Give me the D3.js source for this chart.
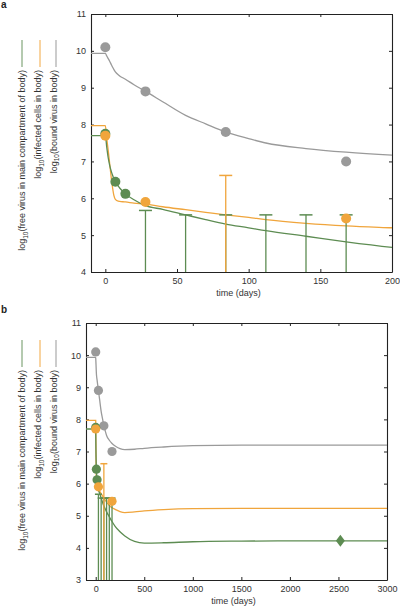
<!DOCTYPE html>
<html><head><meta charset="utf-8">
<script src="https://cdn.jsdelivr.net/npm/d3@7"></script>
<style>
html,body{margin:0;padding:0;background:#fff;}
svg{display:block;font-family:"Liberation Sans",Arial,sans-serif;}
</style></head>
<body>
<svg id="chart" width="400" height="609"></svg>
<script>
// ---- model curves (days, log10 values) ----
const days          = [-100, 0, 1, 2, 3, 4, 5, 6, 7, 9, 10, 14, 20, 28, 40, 56, 70, 84, 100, 112, 140, 168, 200, 250, 300, 400, 500, 700, 1000, 1500, 2000, 3000];
const freeVirus     = [7.7, 7.7, 7.38, 7.1, 6.9, 6.75, 6.63, 6.53, 6.45, 6.33, 6.28, 6.12, 5.96, 5.8, 5.7, 5.55, 5.42, 5.3, 5.2, 5.12, 4.97, 4.82, 4.67, 4.5, 4.37, 4.2, 4.15, 4.16, 4.19, 4.21, 4.22, 4.22];
const infectedCells = [7.97, 7.97, 7.62, 7.3, 6.95, 6.6, 6.3, 6.07, 5.97, 5.92, 5.915, 5.9, 5.87, 5.84, 5.77, 5.69, 5.62, 5.55, 5.48, 5.42, 5.32, 5.25, 5.2, 5.13, 5.1, 5.12, 5.15, 5.19, 5.22, 5.23, 5.23, 5.23];
const boundVirus    = [9.93, 9.93, 9.86, 9.79, 9.72, 9.64, 9.56, 9.49, 9.43, 9.35, 9.32, 9.23, 9.08, 8.9, 8.62, 8.25, 8.02, 7.8, 7.62, 7.5, 7.35, 7.25, 7.17, 7.09, 7.06, 7.07, 7.1, 7.14, 7.18, 7.2, 7.2, 7.2];

// ---- observations ----
const freeObsDays  = [0, 7, 14];
const freeObsVals  = [7.75, 6.45, 6.12];
const infObsDays   = [0, 28, 168];
const infObsVals   = [7.7, 5.9, 5.45];
const boundObsDays = [0, 28, 84, 168];
const boundObsVals = [10.1, 8.9, 7.8, 7.0];
const freeLateDays = [2520];
const freeLateVals = [4.22];

// ---- detection-limit bars ----
const freeLimitDays = [28, 56, 84, 112, 140, 168];
const freeLimitVals = [5.67, 5.55, 5.55, 5.55, 5.55, 5.55];
const infLimitDays  = [84];
const infLimitVals  = [6.62];

// ---- axes ----
const xTicksA = [0, 50, 100, 150, 200];
const yTicksA = [4, 5, 6, 7, 8, 9, 10, 11];
const xTicksB = [0, 500, 1000, 1500, 2000, 2500, 3000];
const yTicksB = [3, 4, 5, 6, 7, 8, 9, 10, 11];

const labels = [
  {pre: "log", sub: "10", post: "(free virus in main compartment of body)"},
  {pre: "log", sub: "10", post: "(infected cells in body)"},
  {pre: "log", sub: "10", post: "(bound virus in body)"}
];

const GREEN = "#5d8c52", ORANGE = "#f0a53c", GRAY = "#9a9a9a";
const GREEN_L = "#6a9560", ORANGE_L = "#f2a843", GRAY_L = "#999999";

const svg = d3.select("#chart");
const fmt = d3.format("d");

function panel(cfg) {
  const g = svg.append("g");
  const x = d3.scaleLinear().domain(cfg.xDomain).range([cfg.left, cfg.right]);
  const y = d3.scaleLinear().domain(cfg.yDomain).range([cfg.bottom, cfg.top]);
  const id = "clip" + cfg.name;
  svg.append("clipPath").attr("id", id).append("rect")
    .attr("x", cfg.left).attr("y", cfg.top)
    .attr("width", cfg.right - cfg.left).attr("height", cfg.bottom - cfg.top);

  // panel letter
  svg.append("text").attr("x", 1).attr("y", cfg.letterY)
    .attr("font-size", 10).attr("font-weight", "bold").attr("fill", "#222").text(cfg.name);

  // axes with inward ticks
  const axB = d3.axisBottom(x).tickValues(cfg.xTicks).tickSizeInner(-3).tickSizeOuter(0).tickPadding(6).tickFormat(fmt);
  const axT = d3.axisTop(x).tickValues(cfg.xTicks).tickSizeInner(-3).tickSizeOuter(0).tickFormat("");
  const axL = d3.axisLeft(y).tickValues(cfg.yTicks).tickSizeInner(-3).tickSizeOuter(0).tickPadding(5).tickFormat(fmt);
  const axR = d3.axisRight(y).tickValues(cfg.yTicks).tickSizeInner(-3).tickSizeOuter(0).tickFormat("");
  const gb = g.append("g").attr("transform", `translate(0,${cfg.bottom})`).call(axB);
  const gt = g.append("g").attr("transform", `translate(0,${cfg.top})`).call(axT);
  const gl = g.append("g").attr("transform", `translate(${cfg.left},0)`).call(axL);
  const gr = g.append("g").attr("transform", `translate(${cfg.right},0)`).call(axR);
  [gb, gt, gl, gr].forEach(a => {
    a.select(".domain").attr("stroke", "#222").attr("stroke-width", 1.1);
    a.selectAll(".tick line").attr("stroke", "#222").attr("stroke-width", 1);
    a.selectAll(".tick text").attr("font-size", 9).attr("fill", "#333")
      .attr("font-family", '"Liberation Sans",Arial,sans-serif');
  });

  // x axis title
  g.append("text").attr("x", (cfg.left + cfg.right) / 2 - 3).attr("y", cfg.bottom + 24)
    .attr("text-anchor", "middle").attr("font-size", 9).attr("fill", "#333").text("time (days)");

  // y label block with colored legend lines
  const lx = [25, 41, 56.5];
  const lineX = [22, 40, 56];
  const cols = [GREEN_L, ORANGE_L, GRAY_L];
  labels.forEach((lb, i) => {
    g.append("line").attr("x1", lineX[i]).attr("x2", lineX[i])
      .attr("y1", cfg.legTop).attr("y2", cfg.legTop + 27)
      .attr("stroke", cols[i]).attr("stroke-width", 1);
    const t = g.append("text")
      .attr("transform", `translate(${lx[i]},${cfg.legTop + 30}) rotate(-90)`)
      .attr("text-anchor", "end").attr("font-size", 9).attr("fill", "#333");
    t.append("tspan").text(lb.pre);
    t.append("tspan").attr("font-size", 6.5).attr("dy", 2.5).text(lb.sub);
    t.append("tspan").attr("dy", -2.5).text(lb.post);
  });

  const plot = g.append("g").attr("clip-path", `url(#${id})`);
  const line = d3.line().x(d => x(d[0])).y(d => y(d[1])).curve(d3.curveMonotoneX);
  const series = [[boundVirus, GRAY], [infectedCells, ORANGE], [freeVirus, GREEN]];
  series.forEach(([vals, c]) => {
    plot.append("path").datum(days.map((d, i) => [d, vals[i]]))
      .attr("fill", "none").attr("stroke", c).attr("stroke-width", 1.3).attr("d", line);
  });

  // detection limit bars
  function bars(ds, vs, c) {
    ds.forEach((d, i) => {
      plot.append("line").attr("x1", x(d)).attr("x2", x(d))
        .attr("y1", cfg.bottom).attr("y2", y(vs[i]))
        .attr("stroke", c).attr("stroke-width", 1.3);
      plot.append("line").attr("x1", x(d) - cfg.cap).attr("x2", x(d) + cfg.cap)
        .attr("y1", y(vs[i])).attr("y2", y(vs[i]))
        .attr("stroke", c).attr("stroke-width", 1.5);
    });
  }
  bars(freeLimitDays, freeLimitVals, GREEN);
  bars(infLimitDays, infLimitVals, ORANGE);

  // observation markers
  function dots(ds, vs, c) {
    ds.forEach((d, i) => {
      plot.append("circle").attr("cx", x(d)).attr("cy", y(vs[i])).attr("r", cfg.r).attr("fill", c);
    });
  }
  dots(boundObsDays, boundObsVals, GRAY);
  dots(freeObsDays, freeObsVals, GREEN);
  dots(infObsDays, infObsVals, ORANGE);
  freeLateDays.forEach((d, i) => {
    const cx = x(d), cy = y(freeLateVals[i]);
    plot.append("path").attr("d", `M${cx},${cy - 6}L${cx + 4.5},${cy}L${cx},${cy + 6}L${cx - 4.5},${cy}Z`)
      .attr("fill", GREEN);
  });
}

panel({name: "a", xDomain: [-10, 200], yDomain: [4, 11], left: 91, right: 392, top: 14, bottom: 272,
       xTicks: xTicksA, yTicks: yTicksA, letterY: 8, legTop: 40, cap: 6.5, r: 5});
panel({name: "b", xDomain: [-100, 3000], yDomain: [3, 11], left: 86, right: 387, top: 323, bottom: 580,
       xTicks: xTicksB, yTicks: yTicksB, letterY: 313, legTop: 340, cap: 3.5, r: 4.6});
</script>
</body></html>
